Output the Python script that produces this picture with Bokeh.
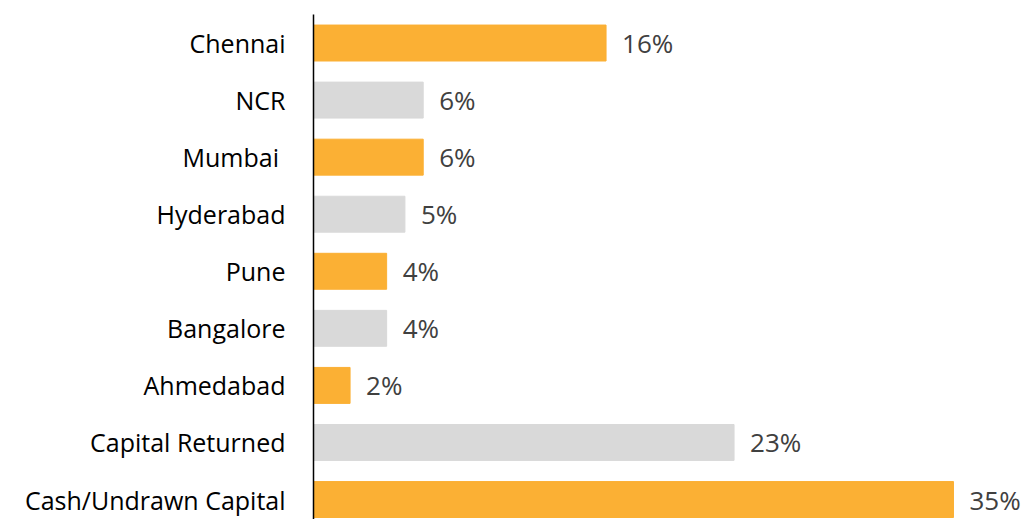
from bokeh.plotting import figure
from bokeh.models import Range1d, FixedTicker, ColumnDataSource
from bokeh.embed import file_html
from bokeh.resources import INLINE
from bokeh.core.properties import value

categories = ["Chennai", "NCR", "Mumbai ", "Hyderabad", "Pune", "Bangalore",
              "Ahmedabad", "Capital Returned", "Cash/Undrawn Capital"]
values = [16, 6, 6, 5, 4, 4, 2, 23, 35]
labels = ["16%", "6%", "6%", "5%", "4%", "4%", "2%", "23%", "35%"]
colors = ["#FBB034", "#D9D9D9"] * 4 + ["#FBB034"]

pos = list(range(len(categories)))
src = ColumnDataSource(dict(y=pos, v=values, lab=labels, c=colors))

p = figure(width=1023, height=519, output_backend="svg", toolbar_location=None,
           x_range=Range1d(0, 38.83), y_range=Range1d(8.35, -0.5),
           min_border_left=313, min_border_right=0, min_border_top=14, min_border_bottom=0)
p.hbar(y="y", left=0, right="v", height=0.63, color="c", source=src)
p.text(x="v", y="y", text="lab", source=src, x_offset=16, text_align="left",
       text_baseline="middle", text_font=value("Open Sans"), text_font_size="26px",
       text_color="#404040")

p.xaxis.visible = False
p.grid.visible = False
p.outline_line_color = None
ya = p.yaxis[0]
ya.ticker = FixedTicker(ticks=pos)
ya.major_label_overrides = {i: c for i, c in enumerate(categories)}
ya.major_tick_line_color = None
ya.minor_tick_line_color = None
ya.major_tick_out = 0
ya.major_tick_in = 0
ya.major_label_standoff = 28
ya.major_label_text_font = "Open Sans"
ya.major_label_text_font_size = "25px"
ya.major_label_text_color = "#000000"
ya.axis_line_color = "#000000"
ya.axis_line_width = 1.5

open("out.html", "w").write(file_html(p, INLINE))
